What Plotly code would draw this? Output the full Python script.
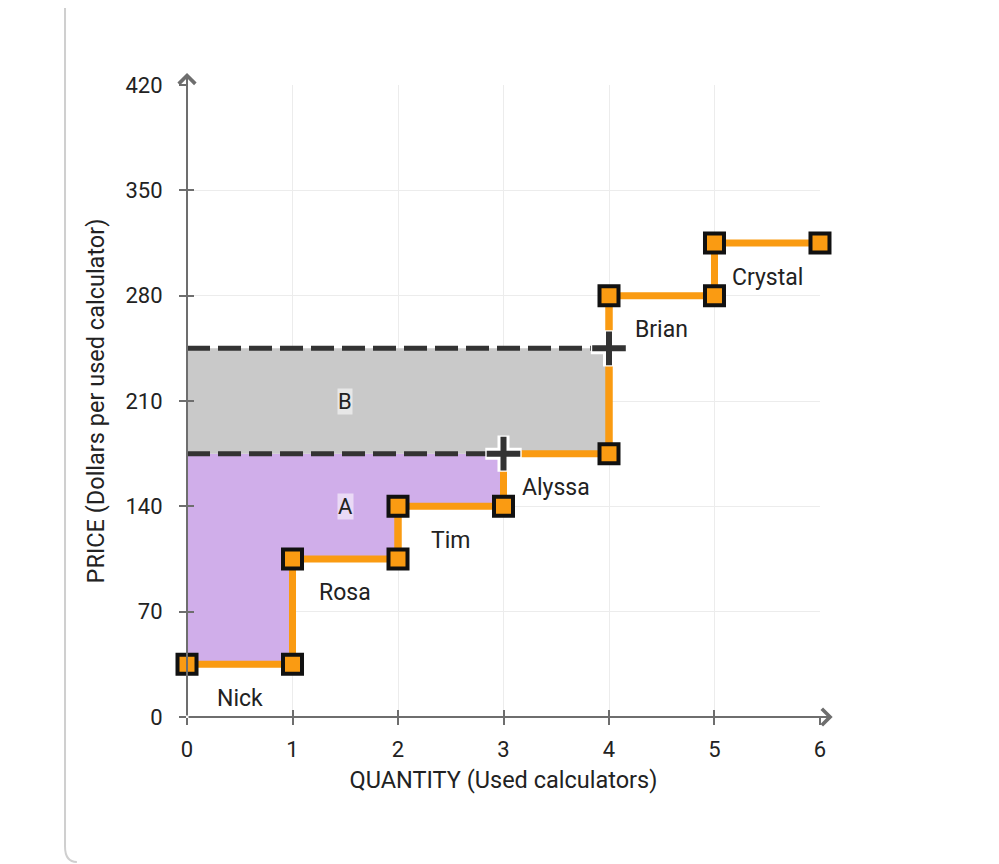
import plotly.graph_objects as go

# ---- data ----
sellers = ["Nick", "Rosa", "Tim", "Alyssa", "Brian", "Crystal"]
costs = [35, 105, 140, 175, 280, 315]
price_high = 245
price_low = 175
qty_low = 3
qty_high = 4
x_ticks = [0, 1, 2, 3, 4, 5, 6]
y_ticks = [0, 70, 140, 210, 280, 350, 420]
area_labels = ["A", "B"]

ORANGE = "#fa9b12"
DARK = "#333333"
FONT = "Roboto, Arial, sans-serif"
TXT = "#222222"

# supply step points
sx, sy = [], []
for i, c in enumerate(costs):
    sx += [i, i + 1]
    sy += [c, c]

fig = go.Figure()

# Area A
ax_, ay_ = [], []
for i in range(qty_low):
    ax_ += [i, i + 1]
    ay_ += [costs[i], costs[i]]
ax_ += [qty_low, 0]
ay_ += [price_low, price_low]
fig.add_trace(go.Scatter(x=ax_, y=ay_, fill="toself", fillcolor="#d0aeea",
                         line=dict(width=0), mode="lines", hoverinfo="skip",
                         showlegend=False))
# Area B
fig.add_trace(go.Scatter(x=[0, qty_high, qty_high, 0], y=[price_low, price_low, price_high, price_high],
                         fill="toself", fillcolor="#c9c9c9", line=dict(width=0),
                         mode="lines", hoverinfo="skip", showlegend=False))

# dashed price lines
fig.add_trace(go.Scatter(x=[0, qty_high], y=[price_high, price_high], mode="lines",
                         line=dict(color=DARK, width=5, dash="23px,8px"),
                         showlegend=False, hoverinfo="skip", cliponaxis=False))
fig.add_trace(go.Scatter(x=[0, qty_low], y=[price_low, price_low], mode="lines",
                         line=dict(color=DARK, width=5, dash="23px,8px"),
                         showlegend=False, hoverinfo="skip", cliponaxis=False))

# supply line (steps)
fig.add_trace(go.Scatter(x=sx, y=sy, mode="lines", line=dict(color=ORANGE, width=7),
                         showlegend=False, cliponaxis=False))
vx, vy = [], []
for i in range(1, len(costs)):
    vx += [i, i, None]
    vy += [costs[i - 1], costs[i], None]
fig.add_trace(go.Scatter(x=vx, y=vy, mode="lines", line=dict(color=ORANGE, width=7),
                         showlegend=False, cliponaxis=False))

# square markers (except where a cross sits)
cx = [qty_low, qty_high]
cy = [price_low, price_high]
crosses = set(zip(cx, cy))
mx = [x for x, y in zip(sx, sy) if (x, y) not in crosses]
my = [y for x, y in zip(sx, sy) if (x, y) not in crosses]
fig.add_trace(go.Scatter(x=mx, y=my, mode="markers", cliponaxis=False, showlegend=False,
                         marker=dict(symbol="square", size=19, color=ORANGE,
                                     line=dict(color="#111111", width=4))))

# crosses
fig.add_trace(go.Scatter(x=cx, y=cy, mode="markers", cliponaxis=False, showlegend=False,
                         marker=dict(symbol="cross-thin", size=26, line=dict(color="white", width=12))))
fig.add_trace(go.Scatter(x=cx, y=cy, mode="markers", cliponaxis=False, showlegend=False,
                         marker=dict(symbol="cross-thin", size=24, line=dict(color=DARK, width=6))))

# seller labels
for i, (n, c) in enumerate(zip(sellers, costs)):
    fig.add_annotation(x=i + 0.5, y=c, text=n, showarrow=False, yshift=-34,
                       font=dict(family=FONT, size=23, color=TXT))

# area labels
fig.add_annotation(x=1.5, y=price_low - 35, text=area_labels[0], showarrow=False,
                   bgcolor="rgba(255,255,255,0.55)", borderpad=0,
                   font=dict(family=FONT, size=22, color=TXT))
fig.add_annotation(x=1.5, y=(price_low + price_high) / 2, text=area_labels[1], showarrow=False,
                   bgcolor="rgba(255,255,255,0.55)", borderpad=0,
                   font=dict(family=FONT, size=22, color=TXT))

# axis lines with arrows
AXC = "#6e6e6e"
fig.add_annotation(x=6.12, y=0, ax=0, ay=0, xref="x", yref="y", axref="x", ayref="y",
                   showarrow=True, arrowhead=4, arrowsize=1.6, arrowwidth=2, arrowcolor=AXC, text="")
fig.add_annotation(x=0, y=428, ax=0, ay=0, xref="x", yref="y", axref="x", ayref="y",
                   showarrow=True, arrowhead=4, arrowsize=1.6, arrowwidth=2, arrowcolor=AXC, text="")

# card border
fig.add_shape(type="path", xref="paper", yref="paper",
              path="M -0.1927,1.2 L -0.1927,-0.205 Q -0.1927,-0.2294 -0.174,-0.2294",
              line=dict(color="#cfcfcf", width=2))

axis_common = dict(showline=False, zeroline=False, ticks="outside", ticklen=7,
                   tickwidth=2, tickcolor=AXC,
                   tickfont=dict(family=FONT, size=22, color=TXT),
                   showgrid=True, gridcolor="#ececec", gridwidth=1)

fig.update_layout(
    width=991, height=856,
    margin=dict(l=179, r=179, t=77, b=147),
    plot_bgcolor="white", paper_bgcolor="white",
    xaxis=dict(range=[-0.0001, 6.0001], tickvals=x_ticks, ticklabelstandoff=6,
               title=dict(text="QUANTITY (Used calculators)", standoff=10,
                          font=dict(family=FONT, size=23.5, color=TXT)),
               **axis_common),
    yaxis=dict(range=[-0.01, 420.01], tickvals=y_ticks, ticklabelstandoff=12,
               title=dict(text="PRICE (Dollars per used calculator)", standoff=14,
                          font=dict(family=FONT, size=23.5, color=TXT)),
               **axis_common),
    xaxis2=dict(overlaying="x", range=[-0.0001, 6.0001], tickvals=x_ticks, ticks="inside",
                ticklen=7, tickwidth=2, tickcolor=AXC, showticklabels=False,
                showgrid=False, zeroline=False, side="bottom"),
    yaxis2=dict(overlaying="y", range=[-0.01, 420.01], tickvals=y_ticks, ticks="inside",
                ticklen=7, tickwidth=2, tickcolor=AXC, showticklabels=False,
                showgrid=False, zeroline=False, side="left"),
    showlegend=False,
)
fig.add_trace(go.Scatter(x=[None], y=[None], xaxis="x2", yaxis="y2", showlegend=False))

fig.write_html("out.html")
